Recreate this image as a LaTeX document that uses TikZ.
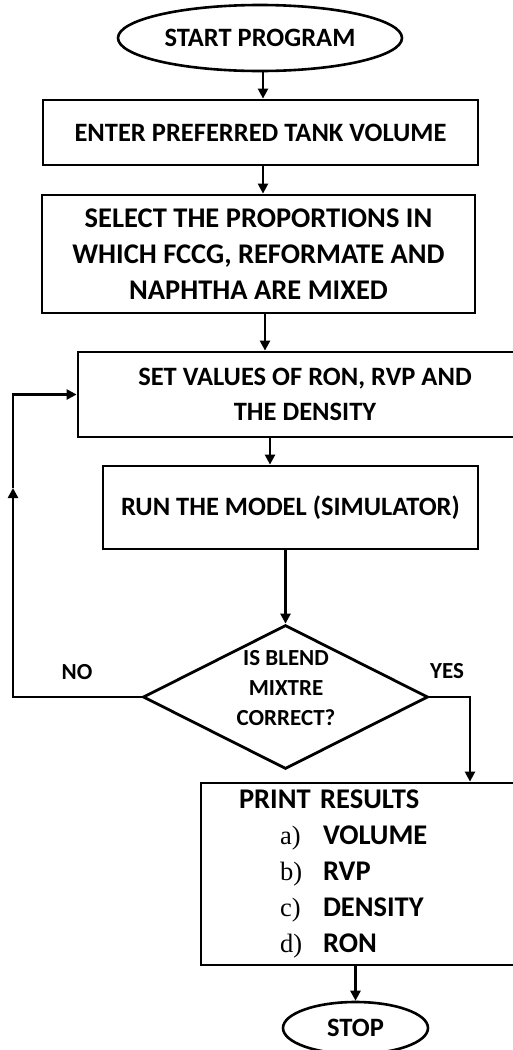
\documentclass[tikz,border=0pt]{standalone}
\usepackage{fontspec}
\setmainfont{Carlito}
\newfontfamily\listfont{Liberation Serif}
\usetikzlibrary{shapes.geometric,arrows.meta}

\begin{document}
\begin{tikzpicture}[x=1pt,y=1pt,
    every node/.style={font=\bfseries\fontsize{26.5}{35.5}\selectfont},
    big/.style={font=\bfseries\fontsize{28.5}{36}\selectfont},
    terminal/.style={draw,ellipse,line width=2.6pt,inner sep=0pt},
    process/.style={draw,rectangle,line width=2.8pt,align=center,inner sep=0pt},
    decision/.style={draw,diamond,line width=2.8pt,inner sep=0pt,shape aspect=2},
    small/.style={font=\bfseries\fontsize{23}{30}\selectfont,align=center},
    arr/.style={line width=2.4pt,-{Triangle[length=10pt,width=10pt]}}]
    \def \xno {13} % x of the line back to the values box
    \def \xyes {470}
    \def \item #1#2{\hspace*{41pt}\makebox[43pt][l]{\listfont\mdseries\fontsize{26.5}{36}\selectfont #1}#2}
    \useasboundingbox (0,0) rectangle (512,-1050);
    \node[terminal, minimum width=284, minimum height=66] (start) at (260,-38) {START PROGRAM};
    \node[process, minimum width=435, minimum height=65] (vol) at (260.5,-132.5) {ENTER PREFERRED TANK VOLUME};
    \node[process, big, minimum width=433, minimum height=118] (prop) at (258.5,-254)
      {SELECT THE PROPORTIONS IN\\WHICH FCCG, REFORMATE AND\\NAPHTHA ARE MIXED};
    \node[process, minimum width=454, minimum height=85] (set) at (305,-394.5)
      {SET VALUES OF RON, RVP AND\\THE DENSITY};
    \node[process, minimum width=375, minimum height=83] (run) at (290.5,-507.5) {RUN THE MODEL (SIMULATOR)};
    \node[decision, minimum width=285, minimum height=144] (chk) at (285.5,-697) {};
    \node[small] (chktext) at (286,-688) {IS BLEND\\MIXTRE\\CORRECT?};
    \node[small] (no) at (77,-672) {NO};
    \node[small] (yes) at (447,-671) {YES};
    \node[process, big, minimum width=339, minimum height=182, align=left, text width=263] (res) at (370.5,-874)
      {PRINT RESULTS\\ \item{a)}{VOLUME}\\ \item{b)}{RVP}\\ \item{c)}{DENSITY}\\ \item{d)}{RON}};
    \node[terminal, minimum width=145, minimum height=52] (stop) at (355.5,-1028) {STOP};

    \coordinate (nocorner) at (\xno,-697);
    \coordinate (nomid) at (\xno,-488);
    \coordinate (yescorner) at (\xyes,-697);

    \draw[arr] (263,0 |- start.south) -- (263,0 |- vol.north);
    \draw[arr] (263,0 |- vol.south) -- (263,0 |- prop.north);
    \draw[arr] (265,0 |- prop.south) -- (265,0 |- set.north);
    \draw[arr] (270,0 |- set.south) -- (270,0 |- run.north);
    \draw[arr] (chk.north |- run.south) -- (chk.north);
    \draw[arr] (chk.west) -- (nocorner) -- (nomid);
    \draw[arr] (nomid) |- (set.west);
    \draw[arr] (chk.east) -- (yescorner) -- (yescorner |- res.north);
    \draw[arr] (stop.north |- res.south) -- (stop.north);
\end{tikzpicture}
\end{document}
